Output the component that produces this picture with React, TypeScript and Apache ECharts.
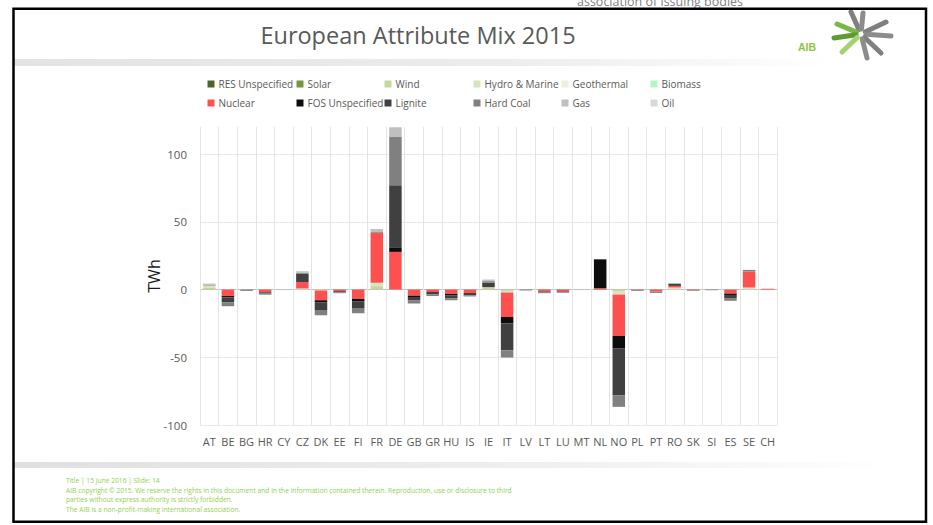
import React, { useEffect, useRef } from "react";
import * as echarts from "echarts";

const categories = ["AT","BE","BG","HR","CY","CZ","DK","EE","FI","FR","DE","GB","GR","HU","IS","IE","IT","LV","LT","LU","MT","NL","NO","PL","PT","RO","SK","SI","ES","SE","CH"];

const seriesNames = ["RES Unspecified","Solar","Wind","Hydro & Marine","Geothermal","Biomass","Nuclear","FOS Unspecified","Lignite","Hard Coal","Gas","Oil"];

const resUnspecified = [0,0,0,0,0,0,0,0,0,0,0,0,0,0,0,0,0,0,0,0,0,0,0,0,0,0,0,0,0,0,0];
const solar = [0,0,0,0,0,0,0,0,0,0,0,0,0,0,0,0,0,0,0,0,0,0,0,0,0,0,0,0,0,0,0];
const wind = [1.2,0,0,0,0,0,-0.7,0,0,2.5,0,0,0,0,0,1.8,-1.0,0,0,0,0,0,-1.5,0,0,0,0,0,0,0,0];
const hydroMarine = [1.8,0,0,0,0,0.8,0,0,0,2.5,0,0,0,0,0,0,-1.2,0,0,0,0,0,-2.2,0,0,1.5,0,0,0,1.5,0];
const geothermal = [0,0,0,0,0,0,0,0,0,0,0,0,0,0,0,0,0,0,0,0,0,0,0,0,0,0,0,0,0,0,0];
const biomass = [0,0,0,0,0,0,0,0,0,0,0,0,0,0,0,0,0,0,0,0,0,0,0,0,0,0,0,0,0,0,0];
const nuclear = [0,-4.8,0,-2.0,0,4.7,-7.2,-1.2,-6.9,36.8,27.8,-4.5,-1.8,-3.2,-2.5,0,-18.0,0,-1.4,-1.4,0,1.0,-30.5,-0.4,-1.5,1.2,-0.3,0,-3.0,11.8,0.6];
const fosUnspecified = [0,-1.0,0,0,0,0,-1.7,0,-1.7,0,3.4,-1.0,0,-1.0,0,0,-4.9,0,0,0,0,21.3,-9.1,0,0,0,0,0,-1.0,0,0];
const lignite = [0,-3.5,0,-1.0,0,6.3,-6.0,-0.8,-5.5,0,45.8,-2.6,-1.8,-2.2,-1.8,3.2,-19.7,0,-0.8,-0.6,0,0,-34.7,-0.4,0,1.5,-0.4,0,-2.3,0,0];
const hardCoal = [0.6,-3.0,-1.0,-0.8,0,0.5,-3.4,-0.7,-3.4,0.6,35.6,-2.2,-1.2,-1.5,-0.8,1.2,-5.4,-0.7,-0.5,-0.4,0,0,-8.6,0,-1.0,0.3,0,-0.5,-2.0,1.2,0];
const gas = [0.8,0,0,0,0,1.2,0,0,0,2.3,7.2,0,0,0,0,1.2,0,0,0,0,0,0,0,0,0,0,0,0,0,0,0];
const oil = [0,0,0,0,0,0,0,0,0,0,0,0,0,0,0,0,0,0,0,0,0,0,0,0,0,0,0,0,0,0,0];

const seriesData = [resUnspecified, solar, wind, hydroMarine, geothermal, biomass, nuclear, fosUnspecified, lignite, hardCoal, gas, oil];
const seriesColors = ["#4f6228","#77933c","#c3d69b","#d7e4bd","#ebf1de","#b3f5c6","#ff5050","#0d0d0d","#404040","#808080","#bfbfbf","#d9d9d9"];

const yTickValues = [-100, -50, 0, 50, 100];

const footerLines = [
  "Title | 15 June 2016 | Slide: 14",
  "AIB copyright \u00a9 2015. We reserve the rights in this document and in the information contained therein. Reproduction, use or disclosure to third",
  "parties without express authority is strictly forbidden.",
  "The AIB is a non-profit-making international association.",
];

const FONT = "'Open Sans', 'Noto Sans', sans-serif";

export default function App() {
  const ref = useRef<HTMLDivElement>(null);

  useEffect(() => {
    if (!ref.current) return;
    const chart = echarts.init(ref.current, undefined, { renderer: "svg" });

    const legendCols = [207.5, 296.5, 384.5, 473.5, 561.5, 650.5];
    const legendRows = [79, 98];
    const legends = seriesNames.map((name, i) => ({
      show: true,
      data: [name],
      left: legendCols[i % 6],
      top: legendRows[Math.floor(i / 6)],
      padding: 0,
      itemWidth: 7,
      itemHeight: 7,
      itemGap: 0,
      icon: "rect",
      selectedMode: false,
      textStyle: { color: "#595959", fontSize: 10, fontFamily: FONT, padding: [0, 0, 0, -1] },
    }));

    const center = [861, 34];
    const rays: Array<[number, number, string]> = [
      [851, 12, "#7f7f7f"],
      [863, 13, "#8c8c8c"],
      [886, 22, "#7f7f7f"],
      [891, 36, "#8c8c8c"],
      [881, 53, "#7f7f7f"],
      [867, 58, "#8c8c8c"],
      [837, 24, "#7ab648"],
      [834, 38, "#5e9c2f"],
      [842, 52, "#a3d36f"],
    ];
    const rayEls = rays.map(([x, y, c]) => {
      const dx = x - center[0];
      const dy = y - center[1];
      const len = Math.sqrt(dx * dx + dy * dy);
      return {
        type: "line",
        shape: { x1: center[0] + (dx / len) * 5, y1: center[1] + (dy / len) * 5, x2: x, y2: y },
        style: { stroke: c, lineWidth: 5, lineCap: "round" },
        z: 10,
      };
    });

    const option: any = {
      animation: false,
      backgroundColor: "#ffffff",
      legend: legends,
      grid: { left: 200, right: 156, top: 127, bottom: 100, containLabel: false },
      xAxis: {
        type: "category",
        data: categories,
        axisLine: { show: false, onZero: false },
        axisTick: { show: false },
        axisLabel: { interval: 0, color: "#595959", fontSize: 11, fontFamily: FONT, margin: 11 },
        splitLine: { show: true, interval: 0, lineStyle: { color: "#e4e4e4", width: 1 } },
      },
      yAxis: {
        type: "value",
        min: -100,
        max: 120,
        interval: 50,
        axisLine: { show: false },
        axisTick: { show: false },
        axisLabel: {
          color: "#595959",
          fontSize: 11.5,
          fontFamily: FONT,
          margin: 13,
          formatter: (v: number) => (yTickValues.indexOf(v) >= 0 ? String(v) : ""),
        },
        splitLine: {
          show: true,
          lineStyle: {
            color: ["#e8e8e8", "#e8e8e8", "#bfbfbf", "#e8e8e8", "#e8e8e8", "rgba(0,0,0,0)"],
            width: 1,
          },
        },
        name: "TWh",
        nameLocation: "middle",
        nameGap: 38,
        nameMoveOverlap: false,
        nameTextStyle: { color: "#1a1a1a", fontSize: 16, fontFamily: FONT },
      },
      series: seriesNames.map((name, i) => ({
        name,
        type: "bar",
        stack: "total",
        barWidth: 12.5,
        data: seriesData[i],
        itemStyle: { color: seriesColors[i] },
        emphasis: { disabled: true },
      })),
      graphic: [
        {
          type: "text",
          left: 577,
          top: -5,
          style: { text: "association of issuing bodies", fontSize: 12.5, fontFamily: FONT, fill: "#7f7f7f" },
          z: 1,
        },
        {
          type: "rect",
          shape: { x: 13, y: 9, width: 914, height: 14 },
          style: { fill: "#ffffff" },
          z: 2,
        },
        {
          type: "rect",
          shape: { x: 14, y: 59, width: 820, height: 7 },
          style: {
            fill: new echarts.graphic.LinearGradient(0, 0, 1, 0, [
              { offset: 0, color: "#e3e3e3" },
              { offset: 0.6, color: "#ececec" },
              { offset: 1, color: "#ffffff" },
            ]),
          },
          z: 2,
        },
        {
          type: "rect",
          shape: { x: 14, y: 462, width: 880, height: 6 },
          style: {
            fill: new echarts.graphic.LinearGradient(0, 0, 1, 0, [
              { offset: 0, color: "#e0e0e0" },
              { offset: 0.6, color: "#efefef" },
              { offset: 1, color: "#ffffff" },
            ]),
          },
          z: 2,
        },
        {
          type: "rect",
          shape: { x: 13.5, y: 8.75, width: 912.5, height: 513 },
          style: { fill: "none", stroke: "#000000", lineWidth: 2.5 },
          z: 20,
        },
        {
          type: "text",
          x: 418,
          y: 35,
          style: {
            text: "European Attribute Mix 2015",
            fontSize: 23.5,
            fontFamily: FONT,
            fill: "#595959",
            align: "center",
            verticalAlign: "middle",
          },
          z: 5,
        },
        {
          type: "text",
          x: 807,
          y: 47,
          style: {
            text: "AIB",
            fontSize: 10.5,
            fontWeight: "bold",
            fontFamily: "'Liberation Sans', Arial, sans-serif",
            fill: "#8dc63f",
            align: "center",
            verticalAlign: "middle",
          },
          z: 5,
        },
        ...rayEls,
        ...footerLines.map((t, i) => ({
          type: "text",
          x: 66,
          y: [480, 490, 499.5, 509][i],
          style: {
            text: t,
            fontSize: 6.7,
            fontFamily: FONT,
            fill: "#92d050",
            align: "left",
            verticalAlign: "middle",
          },
          z: 5,
        })),
      ],
    };

    chart.setOption(option);
    return () => {
      chart.dispose();
    };
  }, []);

  return (
    <div
      ref={ref}
      style={{ position: "fixed", left: 0, top: 0, width: 933, height: 525, background: "#ffffff" }}
    />
  );
}
